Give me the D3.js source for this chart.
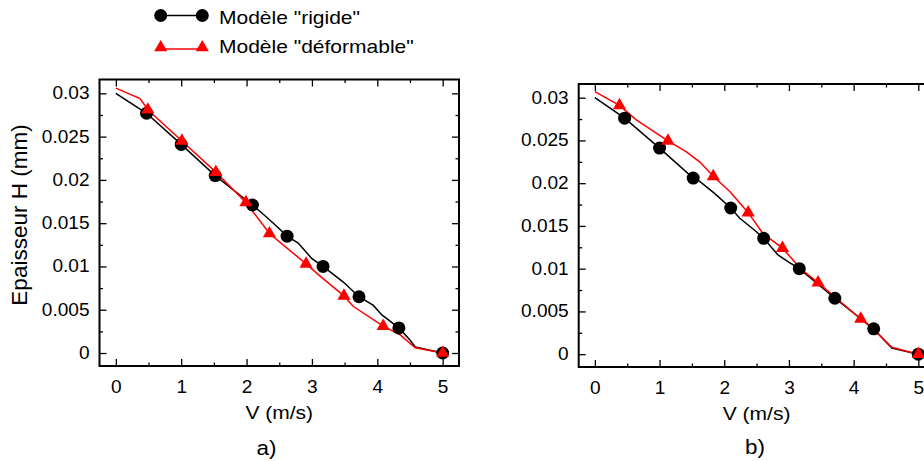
<!DOCTYPE html>
<html><head><meta charset="utf-8">
<script src="https://cdn.jsdelivr.net/npm/d3@7"></script>
<style>
body{margin:0;background:#fff}
svg{display:block}
text{font-family:"Liberation Sans",Arial,Helvetica,sans-serif;fill:#000}
</style>
</head><body>
<svg id="c" width="924" height="461"></svg>
<script>
// ---------- data ----------
const xTicks = [0, 1, 2, 3, 4, 5];
const xMinor = [0.5, 1.5, 2.5, 3.5, 4.5];
const yTicks = [0, 0.005, 0.01, 0.015, 0.02, 0.025, 0.03];
const yTickLabels = ["0", "0.005", "0.01", "0.015", "0.02", "0.025", "0.03"];
const yMinor = [0.0025, 0.0075, 0.0125, 0.0175, 0.0225, 0.0275];
const seriesNames = ['Modèle "rigide"', 'Modèle "déformable"'];
const panelLabels = ["a)", "b)"];
const xTitle = "V (m/s)";
const yTitle = "Epaisseur H (mm)";

// panel a) - rigid model
const aRigidLineV = [0, 0.47, 1.0, 1.52, 2.09, 2.26, 2.41, 2.62, 2.79, 3.0, 3.17, 3.48, 3.72, 3.94, 4.07, 4.33, 4.5, 4.58, 5.0];
const aRigidLineH = [0.0300, 0.0277, 0.0241, 0.0205, 0.0171, 0.0160, 0.0150, 0.0135, 0.0127, 0.0109, 0.0100, 0.0082, 0.0065, 0.0055, 0.0044, 0.0029, 0.0015, 0.0007, 0];
const aRigidMarkV = [0.47, 1.0, 1.52, 2.09, 2.62, 3.17, 3.72, 4.33, 5.0];
const aRigidMarkH = [0.0277, 0.0241, 0.0205, 0.0171, 0.0135, 0.0100, 0.0065, 0.0029, 0];
// panel a) - deformable model
const aDefLineV = [0, 0.37, 0.49, 1.01, 1.53, 1.99, 2.35, 2.91, 3.17, 3.49, 3.63, 4.09, 4.35, 4.58, 5.0];
const aDefLineH = [0.0306, 0.0294, 0.0281, 0.0245, 0.0209, 0.0174, 0.0138, 0.0103, 0.0086, 0.0066, 0.0054, 0.0031, 0.0021, 0.0006, 0];
const aDefMarkV = [0.49, 1.01, 1.53, 1.99, 2.35, 2.91, 3.49, 4.09, 5.0];
const aDefMarkH = [0.0281, 0.0245, 0.0209, 0.0174, 0.0138, 0.0103, 0.0066, 0.0031, 0];

// panel b) - rigid model
const bRigidLineV = [0, 0.46, 1.0, 1.52, 1.62, 1.85, 2.1, 2.24, 2.47, 2.61, 2.83, 2.99, 3.16, 3.71, 4.31, 4.59, 5.0];
const bRigidLineH = [0.0300, 0.0276, 0.0241, 0.0206, 0.0202, 0.0188, 0.0171, 0.0159, 0.0145, 0.01355, 0.0116, 0.0108, 0.0100, 0.00654, 0.00296, 0.0007, 0];
const bRigidMarkV = [0.46, 1.0, 1.52, 2.1, 2.61, 3.16, 3.71, 4.31, 5.0];
const bRigidMarkH = [0.0276, 0.0241, 0.0206, 0.0171, 0.01355, 0.0100, 0.00654, 0.00296, 0];
// panel b) - deformable model
const bDefLineV = [0, 0.38, 0.64, 1.13, 1.41, 1.62, 1.83, 2.09, 2.37, 2.6, 2.9, 3.2, 3.45, 4.11, 4.31, 4.59, 5.0];
const bDefLineH = [0.0307, 0.0291, 0.0274, 0.02495, 0.0237, 0.0225, 0.0208, 0.0190, 0.01655, 0.0141, 0.0124, 0.00985, 0.00837, 0.00412, 0.0029, 0.0008, 0];
const bDefMarkV = [0.38, 1.13, 1.83, 2.37, 2.9, 3.45, 4.11, 5.0];
const bDefMarkH = [0.0291, 0.02495, 0.0208, 0.01655, 0.0124, 0.00837, 0.00412, 0];

// ---------- drawing ----------
const svg = d3.select("#c");
const FONT_TICK = 17.5, SX_TICK = 1.09;
const FONT_TITLE = 18.6, SX_TITLE = 1.13;
const xDomain = [-0.25, 5.25];
const yDomain = [-0.0015, 0.0316];
const triSym = d3.symbol(d3.symbolTriangle, 75);

function stretchText(g, x, y, str, size, sx, anchor) {
  return g.append("text")
    .attr("transform", `translate(${x},${y}) scale(${sx},1)`)
    .attr("text-anchor", anchor || "start")
    .style("font-size", size + "px")
    .text(str);
}

function zip(a, b) { return a.map((v, i) => [v, b[i]]); }

function panel(opt) {
  const {left, top, right, bottom} = opt;
  const x = d3.scaleLinear().domain(xDomain).range([left, right]);
  const y = d3.scaleLinear().domain(yDomain).range([bottom, top]);
  const g = svg.append("g");

  // mirrored inward ticks, major + minor
  const mk = (axisFn, vals, size, tx, ty) => {
    const a = g.append("g").attr("transform", `translate(${tx},${ty})`)
      .call(axisFn.tickValues(vals).tickSize(-size).tickFormat(""));
    a.select(".domain").remove();
    a.selectAll("line").attr("stroke", "#000").attr("stroke-width", 1.3);
    return a;
  };
  mk(d3.axisBottom(x), xTicks, 7, 0, bottom);
  mk(d3.axisBottom(x), xMinor, 3.5, 0, bottom);
  mk(d3.axisTop(x), xTicks, 7, 0, top);
  mk(d3.axisTop(x), xMinor, 3.5, 0, top);
  mk(d3.axisLeft(y), yTicks, 7, left, 0);
  mk(d3.axisLeft(y), yMinor, 3.5, left, 0);
  mk(d3.axisRight(y), yTicks, 7, right, 0);
  mk(d3.axisRight(y), yMinor, 3.5, right, 0);

  // tick labels from axes
  const yl = g.append("g").attr("transform", `translate(${left},0)`)
    .call(d3.axisLeft(y).tickValues(yTicks).tickSize(0)
      .tickFormat((d, i) => yTickLabels[i]));
  yl.select(".domain").remove();
  yl.selectAll("text")
    .attr("x", null).attr("dy", null)
    .attr("transform", `translate(-10,5.5) scale(${SX_TICK},1)`)
    .attr("text-anchor", "end")
    .style("font-size", FONT_TICK + "px").attr("font-family", null);

  const xl = g.append("g").attr("transform", `translate(0,${bottom})`)
    .call(d3.axisBottom(x).tickValues(xTicks).tickSize(0).tickFormat(d3.format("d")));
  xl.select(".domain").remove();
  xl.selectAll("text")
    .attr("y", null).attr("dy", null)
    .attr("transform", `translate(0,26.5) scale(${SX_TICK},1)`)
    .style("font-size", FONT_TICK + "px").attr("font-family", null);

  // frame
  g.append("rect").attr("x", left).attr("y", top)
    .attr("width", right - left).attr("height", bottom - top)
    .attr("fill", "none").attr("stroke", "#000").attr("stroke-width", 2);

  // data
  const line = d3.line().x(d => x(d[0])).y(d => y(d[1]));
  const plot = g.append("g");
  plot.append("path").datum(zip(opt.rigidLineV, opt.rigidLineH))
    .attr("d", line).attr("fill", "none").attr("stroke", "#000").attr("stroke-width", 1.5);
  plot.append("path").datum(zip(opt.defLineV, opt.defLineH))
    .attr("d", line).attr("fill", "none").attr("stroke", "#ff0000").attr("stroke-width", 1.5);
  plot.selectAll("circle.m").data(zip(opt.rigidMarkV, opt.rigidMarkH)).join("circle")
    .attr("class", "m").attr("cx", d => x(d[0])).attr("cy", d => y(d[1])).attr("r", 6.5).attr("fill", "#000");
  plot.selectAll("path.t").data(zip(opt.defMarkV, opt.defMarkH)).join("path")
    .attr("class", "t").attr("d", triSym)
    .attr("transform", d => `translate(${x(d[0])},${y(d[1])})`).attr("fill", "#ff0000");

  // titles
  const cx = (left + right) / 2;
  stretchText(g, cx, bottom + 52.5, xTitle, FONT_TITLE, SX_TITLE, "middle");
  stretchText(g, opt.labelX, bottom + opt.labelDy, opt.label, 19.5, 1.15, "middle");
}

panel({left: 99.5, top: 79.5, right: 459, bottom: 366,
  rigidLineV: aRigidLineV, rigidLineH: aRigidLineH, rigidMarkV: aRigidMarkV, rigidMarkH: aRigidMarkH,
  defLineV: aDefLineV, defLineH: aDefLineH, defMarkV: aDefMarkV, defMarkH: aDefMarkH,
  label: panelLabels[0], labelX: 266.5, labelDy: 89});
panel({left: 578.7, top: 84, right: 934.5, bottom: 367,
  rigidLineV: bRigidLineV, rigidLineH: bRigidLineH, rigidMarkV: bRigidMarkV, rigidMarkH: bRigidMarkH,
  defLineV: bDefLineV, defLineH: bDefLineH, defMarkV: bDefMarkV, defMarkH: bDefMarkH,
  label: panelLabels[1], labelX: 755, labelDy: 86.5});

// y title
svg.append("text")
  .attr("transform", "translate(26.5,215) rotate(-90)")
  .attr("text-anchor", "middle")
  .style("font-size", "22.5px")
  .text(yTitle);

// legend
const lg = svg.append("g");
lg.append("line").attr("x1", 160.7).attr("x2", 202.3).attr("y1", 15.5).attr("y2", 15.5)
  .attr("stroke", "#000").attr("stroke-width", 1.5);
lg.selectAll("circle").data([160.7, 202.3]).join("circle")
  .attr("cx", d => d).attr("cy", 15.5).attr("r", 6.5).attr("fill", "#000");
stretchText(lg, 219, 24, seriesNames[0], FONT_TITLE, SX_TITLE, "start");
lg.append("line").attr("x1", 160.7).attr("x2", 202.3).attr("y1", 49).attr("y2", 49)
  .attr("stroke", "#ff0000").attr("stroke-width", 1.5);
lg.selectAll("path.t").data([160.7, 202.3]).join("path").attr("class", "t")
  .attr("d", triSym).attr("transform", d => `translate(${d},47.5)`).attr("fill", "#ff0000");
stretchText(lg, 219, 52.7, seriesNames[1], FONT_TITLE, SX_TITLE, "start");
</script>
</body></html>
